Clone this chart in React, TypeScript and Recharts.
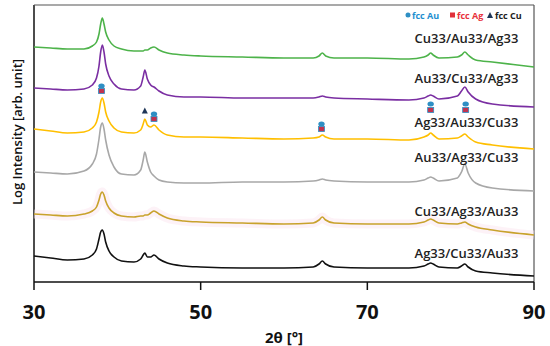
import { ComposedChart, Line, Scatter, XAxis, YAxis, ReferenceLine, ReferenceDot } from 'recharts';

// 2θ sample positions (denser around the reflections)
const twoTheta = [30, 32, 34, 36, 37, 37.5, 37.8, 38.0, 38.2, 38.4, 38.6, 39.0, 39.6, 40.5, 42, 42.8, 43.1, 43.3, 43.6, 44.0, 44.4, 45, 46, 48, 50, 55, 60, 63.5, 64.2, 64.6, 65.0, 66, 70, 75, 76.8, 77.3, 77.6, 77.9, 78.6, 80.8, 81.3, 81.7, 82.1, 83, 85, 90];

// offset log intensities (arb. units)
const cuAuAg = [235, 234, 233, 233, 236, 240, 248, 258, 264, 258, 250, 242, 236, 233, 231, 231, 231, 232, 232, 234, 235, 232, 229, 227, 226, 225, 224, 224, 226, 229, 226, 224, 224, 223, 225, 227, 229, 227, 224, 225, 227, 230, 227, 222, 220, 215];
const auCuAg = [194, 193, 192, 193, 197, 204, 216, 230, 237, 230, 218, 206, 198, 193, 192, 196, 205, 212, 203, 197, 195, 191, 187, 185, 185, 184, 184, 184, 185, 186, 185, 184, 183, 182, 184, 186, 187, 186, 183, 186, 191, 195, 190, 183, 178, 175];
const agAuCu = [153, 151, 149, 150, 154, 160, 170, 180, 184, 179, 170, 161, 154, 150, 149, 152, 158, 163, 157, 155, 157, 152, 147, 145, 145, 144, 143, 144, 145, 147, 145, 143, 143, 142, 145, 147, 149, 147, 143, 144, 146, 148, 145, 140, 137, 133];
const auAgCu = [110, 109, 108, 111, 118, 128, 143, 155, 159, 153, 142, 127, 115, 108, 107, 112, 122, 130, 120, 110, 106, 102, 100, 99, 99, 100, 100, 101, 102, 103, 102, 101, 100, 100, 102, 104, 105, 104, 101, 104, 110, 118, 109, 99, 94, 91];
const cuAgAu = [68, 67, 66, 68, 71, 75, 82, 88, 90, 87, 81, 74, 69, 66, 65, 66, 66, 67, 67, 69, 71, 68, 64, 61, 60, 59, 58, 59, 62, 65, 62, 59, 58, 58, 60, 62, 63, 62, 59, 58, 59, 60, 58, 55, 52, 47];
const agCuAu = [26, 24, 22, 23, 27, 33, 43, 50, 52, 48, 40, 31, 25, 21, 20, 23, 27, 29, 25, 25, 27, 23, 19, 16, 15, 14, 14, 15, 18, 21, 18, 15, 14, 14, 16, 18, 19, 18, 15, 14, 16, 18, 15, 11, 9, 6];

const sampleNames = ['Cu33/Au33/Ag33', 'Au33/Cu33/Ag33', 'Ag33/Au33/Cu33', 'Au33/Ag33/Cu33', 'Cu33/Ag33/Au33', 'Ag33/Cu33/Au33'];
const labelLevels = [244, 204, 160, 125, 71, 29];
const labelPos = 81.9;

// reflection markers
const auMarks = [{ x: 38.1, y: 196 }, { x: 44.4, y: 168 }, { x: 64.5, y: 158 }, { x: 77.6, y: 178 }, { x: 81.8, y: 178 }];
const agMarks = [{ x: 38.1, y: 191 }, { x: 44.4, y: 163 }, { x: 64.5, y: 153 }, { x: 77.6, y: 172 }, { x: 81.8, y: 172 }];
const cuMarks = [{ x: 43.3, y: 171 }];

const xTicks = [30, 50, 70, 90];

const data = twoTheta.map((x, i) => ({
  x,
  cuAuAg: cuAuAg[i],
  auCuAg: auCuAg[i],
  agAuCu: agAuCu[i],
  auAgCu: auAgCu[i],
  cuAgAu: cuAgAu[i],
  agCuAu: agCuAu[i],
}));

const font = '"Open Sans", "DejaVu Sans", sans-serif';

const Circle = (p: any) => <ellipse cx={p.cx} cy={p.cy} rx={3.2} ry={2.5} fill="#2e8fc4" />;
const Square = (p: any) => <rect x={p.cx - 3} y={p.cy - 2.5} width={6} height={5} fill="#c2334f" stroke="#2e8fc4" strokeWidth={0.8} />;
const Triangle = (p: any) => <path d={`M${p.cx},${p.cy - 3.5} L${p.cx + 3},${p.cy + 2.5} L${p.cx - 3},${p.cy + 2.5} Z`} fill="#1d3557" />;

const App = () => {
  return (
    <div style={{ position: 'absolute', left: 0, top: 0, width: 550, height: 346, background: '#fff', fontFamily: font }}>
      <ComposedChart width={550} height={346} data={data} margin={{ top: 5, right: 16, left: 34, bottom: 0 }}>
        <XAxis
          dataKey="x"
          type="number"
          domain={[30, 90]}
          ticks={xTicks}
          height={64}
          tickSize={8}
          tickMargin={15}
          stroke="#111"
          strokeWidth={1.5}
          tick={{ fontSize: 20, fontWeight: 700, fill: '#111', fontFamily: font }}
          label={{ value: '2θ [°]', position: 'insideBottom', offset: 3, style: { fontSize: 15, fontWeight: 700, fill: '#111', fontFamily: font } }}
        />
        <YAxis hide domain={[0, 277]} type="number" />
        <ReferenceLine x={30} stroke="#111" strokeWidth={1.5} />
        <ReferenceLine x={90} stroke="#555" strokeWidth={1.2} />
        <ReferenceLine y={277} stroke="#555" strokeWidth={1.2} />
        <Line dataKey="cuAgAu" stroke="#fce6f0" strokeWidth={9} strokeOpacity={0.5} dot={false} type="monotone" isAnimationActive={false} />
        <Line dataKey="cuAuAg" stroke="#4db34a" strokeWidth={1.6} dot={false} type="monotone" isAnimationActive={false} />
        <Line dataKey="auCuAg" stroke="#7a2ea2" strokeWidth={1.6} dot={false} type="monotone" isAnimationActive={false} />
        <Line dataKey="agAuCu" stroke="#ffbf00" strokeWidth={1.6} dot={false} type="monotone" isAnimationActive={false} />
        <Line dataKey="auAgCu" stroke="#a8a8a8" strokeWidth={1.6} dot={false} type="monotone" isAnimationActive={false} />
        <Line dataKey="cuAgAu" stroke="#c8a22c" strokeWidth={1.6} dot={false} type="monotone" isAnimationActive={false} />
        <Line dataKey="agCuAu" stroke="#111" strokeWidth={1.6} dot={false} type="monotone" isAnimationActive={false} />
        <Scatter data={auMarks} dataKey="y" shape={Circle} isAnimationActive={false} />
        <Scatter data={agMarks} dataKey="y" shape={Square} isAnimationActive={false} />
        <Scatter data={cuMarks} dataKey="y" shape={Triangle} isAnimationActive={false} />
        {sampleNames.map((name, i) => (
          <ReferenceDot
            key={name}
            x={labelPos}
            y={labelLevels[i]}
            r={0}
            label={{ value: name, position: 'center', style: { fontSize: 13, fontWeight: 600, fill: '#222', fontFamily: font } }}
          />
        ))}
      </ComposedChart>
      <svg width={550} height={346} style={{ position: 'absolute', left: 0, top: 0, pointerEvents: 'none' }}>
        <text x={17} y={132} transform="rotate(-90 17 132)" textAnchor="middle" dominantBaseline="central" fontSize={13} fontWeight={600} fill="#111" fontFamily={font}>
          Log Intensity [arb. unit]
        </text>
        <g fontSize={9} fontWeight={700} fontFamily={font}>
          <circle cx={408} cy={15} r={2.5} fill="#2e8fc4" />
          <text x={412} y={18.5} fill="#1f8fd0">fcc Au</text>
          <rect x={450} y={12.5} width={5} height={5} fill="#e0303a" />
          <text x={457} y={18.5} fill="#e8323c">fcc Ag</text>
          <path d="M490,12 L493,18 L487,18 Z" fill="#1d3557" />
          <text x={495} y={18.5} fill="#222">fcc Cu</text>
        </g>
      </svg>
    </div>
  );
};

export default App;
